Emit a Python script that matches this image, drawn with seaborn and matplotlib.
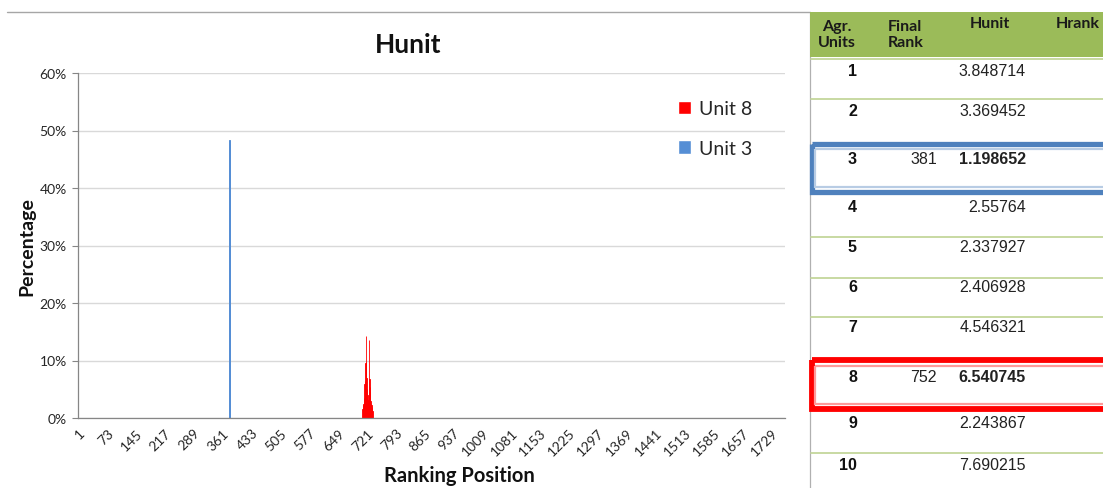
import matplotlib
matplotlib.use("Agg")
import matplotlib.pyplot as plt
import seaborn as sns
from matplotlib.patches import Rectangle
from matplotlib.ticker import FuncFormatter

# ---------------- data ----------------
n_positions = 1763
tick_positions = list(range(1, 1730, 72))

unit3_pos = [378, 379]
unit3_pct = [48.4, 47.7]

unit8_pos = list(range(710, 736))
unit8_pct = [1.5, 2.2, 2.4, 2.0, 3.5, 6.0, 6.5, 9.5, 14.3, 9.8, 7.0, 5.0, 4.0,
             3.0, 2.5, 3.2, 13.6, 6.8, 5.4, 4.5, 3.0, 2.4, 2.2, 2.0, 1.8, 1.2]

series_names = ["Unit 8", "Unit 3"]

table_header = ["Agr.\nUnits", "Final\nRank", "Hunit", "Hrank"]
table_units = ["1", "2", "3", "4", "5", "6", "7", "8", "9", "10"]
table_final_rank = ["", "", "381", "", "", "", "", "752", "", ""]
table_hunit = ["3.848714", "3.369452", "1.198652", "2.55764", "2.337927",
               "2.406928", "4.546321", "6.540745", "2.243867", "7.690215"]

RED = "#FF0000"
BLUE = "#558ED5"

sns.set_theme(style="white")
plt.rcParams["font.family"] = ["Lato", "DejaVu Sans"]

W, H = 1103, 489
fig = plt.figure(figsize=(W / 100, H / 100), dpi=100)

# ---------------- table / frame overlay (pixel coords) ----------------
at = fig.add_axes([0, 0, 1, 1])
at.set_xlim(0, W)
at.set_ylim(H, 0)
at.axis("off")

at.plot([7, 810], [13, 13], color="#A6A6A6", lw=1.0, zorder=1)
at.plot([810, 810], [13, H], color="#B0B0B0", lw=0.9, zorder=1)
at.add_patch(Rectangle((810, 13), W - 810, 45, facecolor="#9BBB59", edgecolor="none", zorder=2))

hdr_font = dict(fontfamily=["Lato", "DejaVu Sans"], fontweight="bold", fontsize=11.5, color="#1a1a1a")
at.text(837, 35, table_header[0], ha="center", va="center", linespacing=1.2, zorder=4, **hdr_font)
at.text(888, 35, table_header[1], ha="left", va="center", linespacing=1.2, zorder=4, **hdr_font)
at.text(990, 24, table_header[2], ha="center", va="center", zorder=4, **hdr_font)
at.text(1078, 24, table_header[3], ha="center", va="center", zorder=4, **hdr_font)

for ysep in [60, 99.5, 238, 278.5, 317.5, 454]:
    at.plot([811, W], [ysep, ysep], color="#C4D79B", lw=1.3, zorder=1)

# highlight boxes
at.add_patch(Rectangle((811.5, 144.5), 300, 48, fill=False, edgecolor="#4F81BD", lw=3.8, zorder=3))
at.add_patch(Rectangle((814.5, 149.5), 300, 38.5, fill=False, edgecolor="#B8CCE4", lw=1.6, zorder=3))
at.add_patch(Rectangle((811.5, 361), 300, 49, fill=False, edgecolor="#FF0000", lw=4.2, zorder=3))
at.add_patch(Rectangle((814.5, 366.5), 300, 38, fill=False, edgecolor="#FF9999", lw=1.6, zorder=3))

row_y = [71, 111, 159, 208, 248, 288, 327, 377, 424, 465]
for i, y in enumerate(row_y):
    bold = table_final_rank[i] != ""
    at.text(857, y, table_units[i], ha="right", va="center", fontsize=11.5,
            fontweight="bold", fontfamily=["Liberation Sans"], color="#111111", zorder=4)
    if table_final_rank[i]:
        at.text(937, y, table_final_rank[i], ha="right", va="center", fontsize=11.5,
                fontfamily=["Liberation Sans"], color="#222222", zorder=4)
    at.text(1026, y, table_hunit[i], ha="right", va="center", fontsize=11.5,
            fontweight="bold" if bold else "normal",
            fontfamily=["Liberation Sans"], color="#222222", zorder=4)

# ---------------- chart ----------------
ax = fig.add_axes([78 / W, 1 - 419 / H, (785 - 78) / W, (419 - 74) / H])
ax.set_facecolor("white")

sns.barplot(x=unit8_pos, y=unit8_pct, native_scale=True, color=RED, saturation=1,
            width=1, edgecolor=RED, linewidth=0.6, ax=ax)
sns.barplot(x=unit3_pos, y=unit3_pct, native_scale=True, color=BLUE, saturation=1,
            width=1, edgecolor=BLUE, linewidth=0.7, ax=ax)

ax.set_xlim(0.5, n_positions + 0.5)
ax.set_ylim(0, 60)
ax.set_yticks(range(0, 61, 10))
ax.yaxis.set_major_formatter(FuncFormatter(lambda v, p: f"{int(v)}%"))
ax.set_xticks(tick_positions)
ax.set_xticklabels([str(t) for t in tick_positions], rotation=45, ha="right",
                   rotation_mode="anchor", fontsize=10, color="#262626")
ax.tick_params(axis="x", length=0, pad=6)
ax.tick_params(axis="y", length=4, width=0.8, color="#868686", labelsize=10,
               labelcolor="#262626", pad=4, left=True)

ax.yaxis.grid(True, color="#D9D9D9", lw=1)
ax.xaxis.grid(False)
ax.set_axisbelow(True)
for s in ["top", "right"]:
    ax.spines[s].set_visible(False)
for s in ["left", "bottom"]:
    ax.spines[s].set_color("#868686")
    ax.spines[s].set_linewidth(0.9)

ax.set_ylabel("Percentage", fontsize=14, fontweight="bold", color="#111111")
ax.yaxis.set_label_coords(-0.06, 0.5)
ax.set_xlabel("Ranking Position", fontsize=14.5, fontweight="bold", color="#111111")
ax.xaxis.set_label_coords((459 - 78) / 707, -0.135)

fig.text(408 / W, 1 - 45 / H, "Hunit", ha="center", va="center",
         fontsize=19, fontweight="bold", color="#111111")

handles = [Rectangle((0, 0), 1, 1, facecolor=RED), Rectangle((0, 0), 1, 1, facecolor=BLUE)]
ax.legend(handles, series_names, loc="center left", bbox_to_anchor=(0.838, 0.839),
          frameon=False, handlelength=0.65, handleheight=0.7, handletextpad=0.4,
          labelspacing=1.15, borderaxespad=0, fontsize=14)

fig.savefig("out.png", dpi=100, facecolor="white")
